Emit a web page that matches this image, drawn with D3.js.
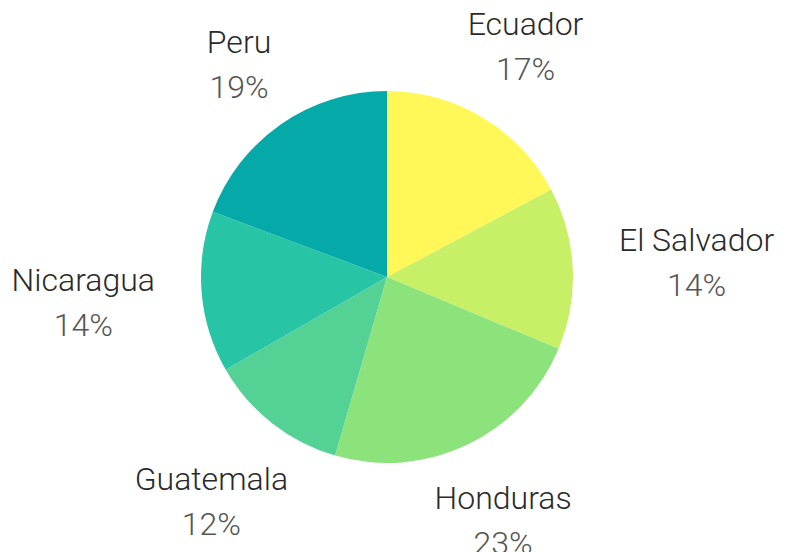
<!DOCTYPE html>
<html><head><meta charset="utf-8">
<script src="https://cdn.jsdelivr.net/npm/d3@7"></script>
<style>html,body{margin:0;padding:0;background:#fff;}</style>
</head><body>
<svg id="chart" width="793" height="552"></svg>
<script>
const categories = ["Ecuador", "El Salvador", "Honduras", "Guatemala", "Nicaragua", "Peru"];
const values = [17.2, 14.1, 23.2, 12.2, 14.0, 19.3];
const colors = ["#FFF858", "#C7F067", "#8CE37C", "#54D295", "#27C4A6", "#05AAA8"];

const svg = d3.select("#chart");
const cx = 387, cy = 277, r = 186;
const g = svg.append("g").attr("transform", `translate(${cx},${cy})`);
const total = d3.sum(values);
const data = categories.map((c, i) => ({name: c, value: values[i], color: colors[i]}));
const pie = d3.pie().value(d => d.value).sort(null);
const arc = d3.arc().innerRadius(0).outerRadius(r);
const arcs = pie(data);

g.selectAll("path").data(arcs).join("path")
  .attr("d", arc).attr("fill", d => d.data.color);

const fontFam = "Roboto, 'Open Sans', sans-serif";
arcs.forEach(d => {
  const a = (d.startAngle + d.endAngle) / 2;
  const lg = g.append("g");
  const t1 = lg.append("text").text(d.data.name)
    .attr("text-anchor", "middle").attr("font-family", fontFam)
    .attr("font-weight", 300).attr("font-size", 32).attr("fill", "#2a2a2a")
    .attr("y", -11);
  const t2 = lg.append("text").text(Math.round(d.data.value / total * 100) + "%")
    .attr("text-anchor", "middle").attr("font-family", fontFam)
    .attr("font-weight", 300).attr("font-size", 32).attr("fill", "#555")
    .attr("y", 34);
  const w = Math.max(t1.node().getComputedTextLength(), t2.node().getComputedTextLength());
  const dist = 244 + 0.85 * (w / 2) * Math.abs(Math.sin(a));
  lg.attr("transform", `translate(${dist * Math.sin(a)},${-dist * Math.cos(a)})`);
});
</script>
</body></html>
